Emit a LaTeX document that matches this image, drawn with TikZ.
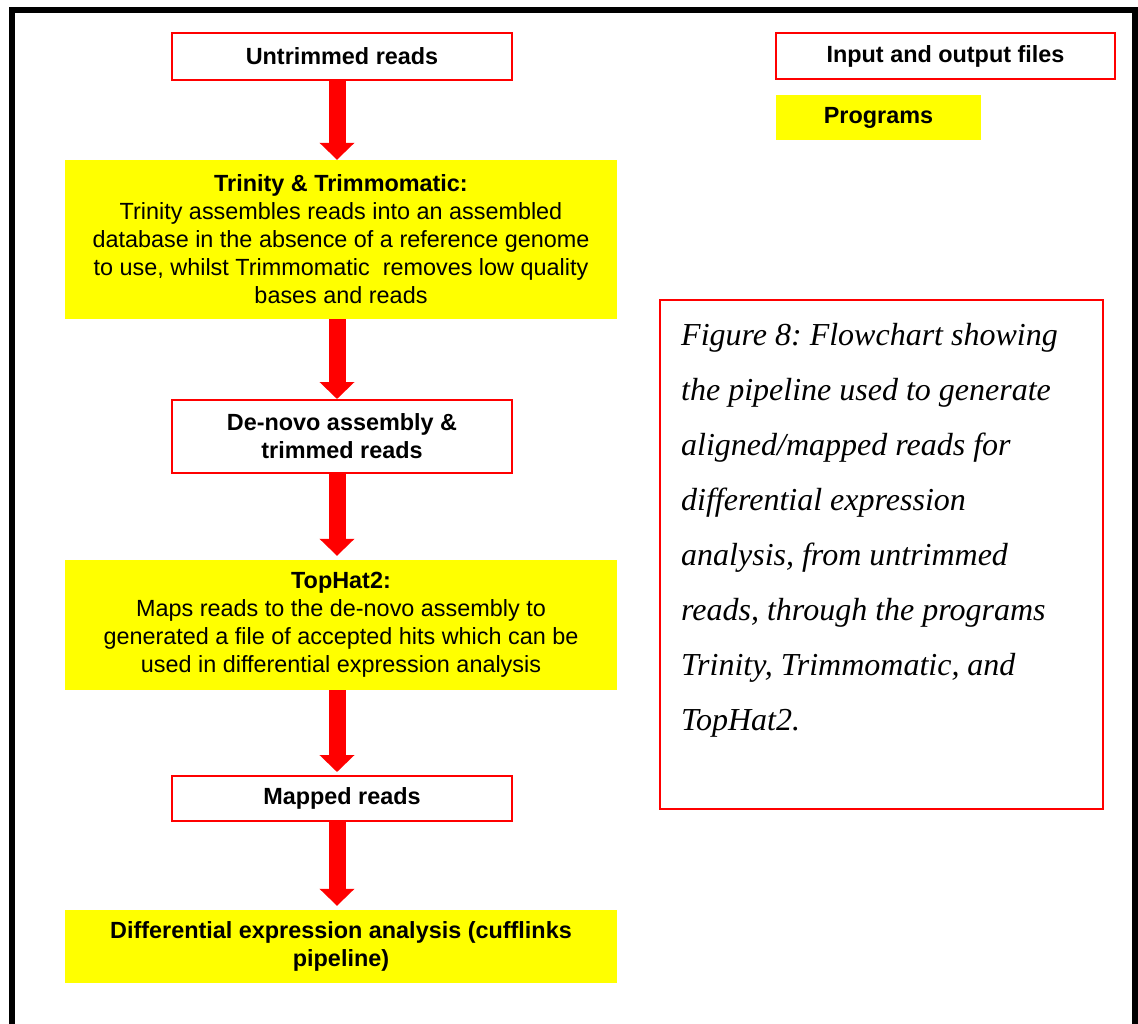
\documentclass[tikz,border=0pt]{standalone}
\usepackage{fontspec}
\setmainfont{Liberation Sans}
\newfontfamily\capfont{Liberation Serif}
\usetikzlibrary{arrows.meta}
\frenchspacing
\definecolor{pred}{RGB}{255,0,0}
\definecolor{pyel}{RGB}{255,255,0}
\tikzset{
  txt/.style={font=\fontsize{23.4}{28}\selectfont, align=center, inner sep=0pt},
  filebox/.style={txt, draw=pred, line width=2pt, fill=white},
  progbox/.style={txt, fill=pyel},
  bigarrow/.style={draw=pred, line width=17pt, -{Triangle[width=34pt,length=17pt]}},
}
\begin{document}
\begin{tikzpicture}[x=1pt,y=-1pt]
\useasboundingbox (0,0) rectangle (1138,1023);
\fill[white] (0,0) rectangle (1138,1023);
% outer frame
\draw[line width=6pt] (11.5,1030) -- (11.5,10) -- (1134.5,10) -- (1134.5,1030);

\node[filebox, minimum width=340pt, minimum height=47pt] (untrimmed) at (342,56) {\textbf{Untrimmed reads}};
\node[progbox, minimum width=552pt, minimum height=159pt] (trinity) at (341,239.5)
  {\textbf{Trinity \& Trimmomatic:}\\Trinity assembles reads into an assembled\\database in the absence of a reference genome\\to use, whilst Trimmomatic\ \ removes low quality\\bases and reads};
\node[filebox, minimum width=340pt, minimum height=73pt] (denovo) at (342,436.5) {\textbf{De-novo assembly \&}\\\textbf{trimmed reads}};
\node[progbox, minimum width=552pt, minimum height=130pt] (tophat) at (341,625)
  {\textbf{TopHat2:}\\Maps reads to the de-novo assembly to\\generated a file of accepted hits which can be\\used in differential expression analysis};
\node[filebox, minimum width=340pt, minimum height=45pt] (mapped) at (342,798.5) {\textbf{Mapped reads}};
\node[progbox, minimum width=552pt, minimum height=73pt] (diff) at (341,946.5) {\textbf{Differential expression analysis (cufflinks}\\\textbf{pipeline)}};

\node[filebox, minimum width=339pt, minimum height=46pt] (io) at (945.5,56) {\textbf{Input and output files}};
\node[progbox, minimum width=205pt, minimum height=45pt] (prog) at (878.5,117.5) {\textbf{Programs}};

\node[draw=pred, line width=2pt, minimum width=443pt, minimum height=509pt] (fig) at (881.5,554.5) {};
\node[anchor=base west, inner sep=0pt, align=left, font=\capfont\itshape\fontsize{32}{55}\selectfont] (cap) at (681,730)
  {Figure 8: Flowchart showing\\the pipeline used to generate\\aligned/mapped reads for\\differential expression\\analysis, from untrimmed\\reads, through the programs\\Trinity, Trimmomatic, and\\TopHat2.};

\draw[bigarrow] ([xshift=-5pt]untrimmed.south) -- ([xshift=-4pt]trinity.north);
\draw[bigarrow] ([xshift=-4pt]trinity.south) -- ([xshift=-5pt]denovo.north);
\draw[bigarrow, shorten >=4pt] ([xshift=-5pt]denovo.south) -- ([xshift=-4pt]tophat.north);
\draw[bigarrow, shorten >=3pt] ([xshift=-4pt]tophat.south) -- ([xshift=-5pt]mapped.north);
\draw[bigarrow, shorten >=4pt] ([xshift=-5pt]mapped.south) -- ([xshift=-4pt]diff.north);
\end{tikzpicture}
\end{document}
